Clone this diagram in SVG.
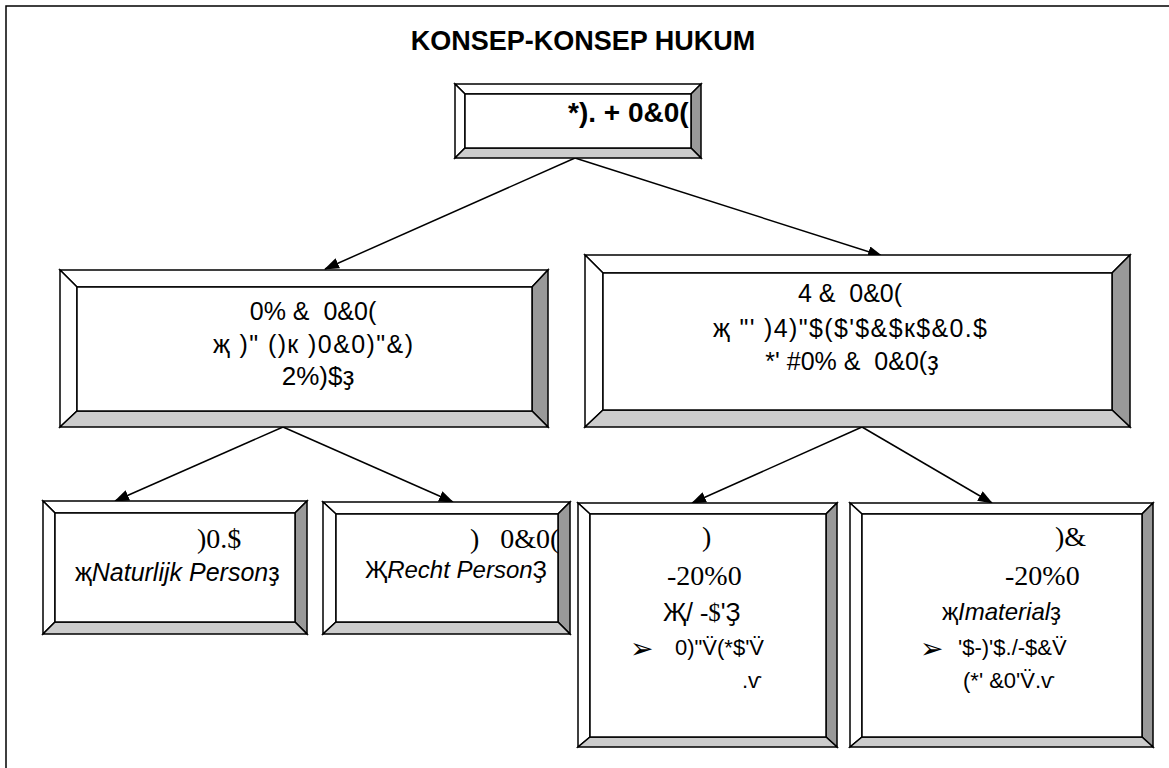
<svg xmlns="http://www.w3.org/2000/svg" width="1169" height="768" viewBox="0 0 1169 768">
  <style>
    .edge { stroke: #000; stroke-width: 1.5; stroke-linejoin: miter; }
    .lit { fill: #fff; }
    .dark { fill: #999; }
    .mid { fill: #ccc; }
    .face { fill: #fff; stroke: #000; stroke-width: 1.5; }
    text { white-space: pre; }
    .sans { font-family: "Liberation Sans", Arial, sans-serif; fill: #000; }
    .serif { font-family: "Liberation Serif", "Times New Roman", serif; fill: #000; }
    .sym { font-family: "DejaVu Sans", sans-serif; fill: #000; }
    .conn { stroke: #000; stroke-width: 1.5; fill: none; }
    .ctr { text-anchor: middle; }
  </style>
  <defs>
    <marker id="arrow" viewBox="0 0 15 11" refX="14" refY="5.5" markerWidth="15" markerHeight="11" markerUnits="userSpaceOnUse" orient="auto">
      <path d="M0,0 L15,5.5 L0,11 Z" fill="#000"/>
    </marker>
    <clipPath id="clip-top"><rect x="465" y="94" width="226" height="54"/></clipPath>
    <clipPath id="clip-b"><rect x="336" y="514" width="222" height="108"/></clipPath>
  </defs>

  <rect width="1169" height="768" fill="#fff"/>
  <!-- page frame -->
  <path d="M6,768 L6,6 L1169,6" fill="none" stroke="#000" stroke-width="1.5"/>

  <!-- title -->
  <text class="sans ctr" x="583" y="50" font-size="27" font-weight="bold">KONSEP-KONSEP HUKUM</text>

  <!-- connectors -->
  <g id="connectors">
    <line class="conn" x1="575" y1="158" x2="325" y2="269" marker-end="url(#arrow)"/>
    <line class="conn" x1="575" y1="158" x2="882" y2="256" marker-end="url(#arrow)"/>
    <line class="conn" x1="283" y1="427" x2="115" y2="501" marker-end="url(#arrow)"/>
    <line class="conn" x1="283" y1="427" x2="453" y2="502" marker-end="url(#arrow)"/>
    <line class="conn" x1="862" y1="427" x2="692" y2="503" marker-end="url(#arrow)"/>
    <line class="conn" x1="862" y1="427" x2="992" y2="503" marker-end="url(#arrow)"/>
  </g>

  <!-- top node -->
  <g id="node-top">
    <polygon class="lit edge" points="455,84 701,84 691,94 465,94"/>
    <polygon class="lit edge" points="455,84 465,94 465,148 455,158"/>
    <polygon class="dark edge" points="701,84 701,158 691,148 691,94"/>
    <polygon class="mid edge" points="455,158 701,158 691,148 465,148"/>
    <rect class="face" x="465" y="94" width="226" height="54"/>
    <g clip-path="url(#clip-top)">
      <text class="sans" x="568" y="122" font-size="28" font-weight="bold">*). + 0&amp;0(</text>
    </g>
  </g>

  <!-- middle left node -->
  <g id="node-mid-left">
    <polygon class="lit edge" points="60,270 548,270 532,287 77,287"/>
    <polygon class="lit edge" points="60,270 77,287 77,411 60,427"/>
    <polygon class="dark edge" points="548,270 548,427 532,411 532,287"/>
    <polygon class="mid edge" points="60,427 548,427 532,411 77,411"/>
    <rect class="face" x="77" y="287" width="455" height="124"/>
    <text class="sans ctr" x="313" y="320" font-size="25">0% &amp;  0&amp;0(</text>
    <text class="sans ctr" x="313" y="353" font-size="25" textLength="200" lengthAdjust="spacing">җ )" ()к )0&amp;0)"&amp;)</text>
    <text class="sans ctr" x="318" y="385" font-size="26">2%)$ҙ</text>
  </g>

  <!-- middle right node -->
  <g id="node-mid-right">
    <polygon class="lit edge" points="585,255 1130,255 1112,273 603,273"/>
    <polygon class="lit edge" points="585,255 603,273 603,410 585,427"/>
    <polygon class="dark edge" points="1130,255 1130,427 1112,410 1112,273"/>
    <polygon class="mid edge" points="585,427 1130,427 1112,410 603,410"/>
    <rect class="face" x="603" y="273" width="509" height="137"/>
    <text class="sans ctr" x="850" y="302" font-size="25">4 &amp;  0&amp;0(</text>
    <text class="sans ctr" x="850" y="337" font-size="25" textLength="274" lengthAdjust="spacing">җ "' )4)"$($'$&amp;$к$&amp;0.$</text>
    <text class="sans ctr" x="852" y="370" font-size="25">*' #0% &amp;  0&amp;0(ҙ</text>
  </g>

  <!-- bottom node A -->
  <g id="node-a">
    <polygon class="lit edge" points="43,501 307,501 295,513 55,513"/>
    <polygon class="lit edge" points="43,501 55,513 55,622 43,634"/>
    <polygon class="dark edge" points="307,501 307,634 295,622 295,513"/>
    <polygon class="mid edge" points="43,634 307,634 295,622 55,622"/>
    <rect class="face" x="55" y="513" width="240" height="109"/>
    <text class="serif" x="197" y="548" font-size="28">)0.$</text>
    <text class="sans" x="75" y="581" font-size="25">җ<tspan font-style="italic">Naturlijk Person</tspan>ҙ</text>
  </g>

  <!-- bottom node B -->
  <g id="node-b">
    <polygon class="lit edge" points="323,502 570,502 558,514 336,514"/>
    <polygon class="lit edge" points="323,502 336,514 336,622 323,634"/>
    <polygon class="dark edge" points="570,502 570,634 558,622 558,514"/>
    <polygon class="mid edge" points="323,634 570,634 558,622 336,622"/>
    <rect class="face" x="336" y="514" width="222" height="108"/>
    <g clip-path="url(#clip-b)">
      <text class="serif" x="470" y="548" font-size="28">)   0&amp;0(</text>
    </g>
    <text class="sans" x="365" y="578" font-size="24">Җ<tspan font-style="italic">Recht Person</tspan>Ҙ</text>
  </g>

  <!-- bottom node C -->
  <g id="node-c">
    <polygon class="lit edge" points="578,503 837,503 826,514 590,514"/>
    <polygon class="lit edge" points="578,503 590,514 590,737 578,747"/>
    <polygon class="dark edge" points="837,503 837,747 826,737 826,514"/>
    <polygon class="mid edge" points="578,747 837,747 826,737 590,737"/>
    <rect class="face" x="590" y="514" width="236" height="223"/>
    <text class="serif" x="702" y="546" font-size="28">)</text>
    <text class="serif" x="667" y="585" font-size="28">-20%0</text>
    <text class="sans" x="663" y="621" font-size="25">Җ/ <tspan class="serif">-$</tspan>'Ҙ</text>
    <text class="sym" x="630" y="658" font-size="28">➢</text>
    <text class="sans" x="675" y="655" font-size="22">0)"V̈(*$'V̈</text>
    <text class="sans" x="742" y="688" font-size="22">.ѵ</text>
  </g>

  <!-- bottom node D -->
  <g id="node-d">
    <polygon class="lit edge" points="850,503 1153,503 1142,514 862,514"/>
    <polygon class="lit edge" points="850,503 862,514 862,737 850,747"/>
    <polygon class="dark edge" points="1153,503 1153,747 1142,737 1142,514"/>
    <polygon class="mid edge" points="850,747 1153,747 1142,737 862,737"/>
    <rect class="face" x="862" y="514" width="280" height="223"/>
    <text class="serif" x="1055" y="546" font-size="28">)&amp;</text>
    <text class="serif" x="1005" y="585" font-size="28">-20%0</text>
    <text class="sans" x="942" y="620" font-size="24">җ<tspan font-style="italic">Imaterial</tspan>ҙ</text>
    <text class="sym" x="920" y="658" font-size="28">➢</text>
    <text class="sans" x="958" y="655" font-size="22">'$-)'$./-$&amp;V̈</text>
    <text class="sans" x="963" y="688" font-size="22">(*' &amp;0'V̈.ѵ</text>
  </g>
</svg>
